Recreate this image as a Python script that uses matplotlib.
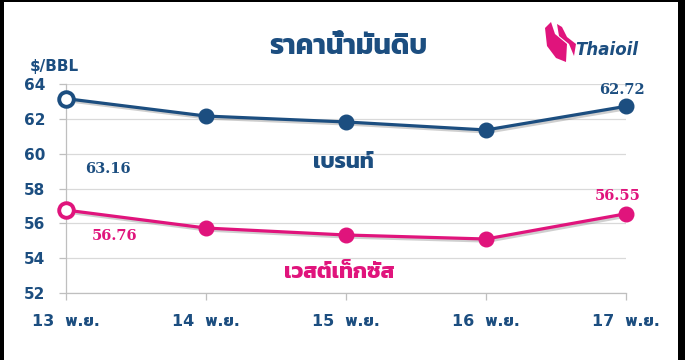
import matplotlib
matplotlib.use('Agg')
import matplotlib.pyplot as plt
import matplotlib.patheffects as pe
from matplotlib.patches import Rectangle, Polygon

# data
days = ['13 พ.ย.', '14 พ.ย.', '15 พ.ย.', '16 พ.ย.', '17 พ.ย.']
brent = [63.16, 62.16, 61.82, 61.36, 62.72]
wti = [56.76, 55.73, 55.33, 55.10, 56.55]
yticks = [52, 54, 56, 58, 60, 62, 64]

title = 'ราคาน้ำมันดิบ'
brent_name = 'เบรนท์'
wti_name = 'เวสต์เท็กซัส'
unit = '$/BBL'

navy = '#1C4E80'
pink = '#E0147C'
thai = ['Kanit', 'Noto Sans Thai', 'DejaVu Sans']
mixed = ['DejaVu Sans', 'Kanit', 'Noto Sans Thai']

W, H = 685, 360
fig = plt.figure(figsize=(W / 100, H / 100), dpi=100)
fig.patch.set_facecolor('black')
fig.add_artist(Rectangle((4 / W, 0), 674 / W, 1 - 2 / H, transform=fig.transFigure,
                         facecolor='white', edgecolor='none', zorder=-5))

ax = fig.add_axes([66 / W, 1 - 293 / H, 560 / W, 209 / H])
ax.set_facecolor('none')
x = list(range(len(days)))

shadow = [pe.SimpleLineShadow(offset=(1.5, -1.5), shadow_color='#777777', alpha=0.35), pe.Normal()]
for vals, col in [(brent, navy), (wti, pink)]:
    ax.plot(x, vals, color=col, lw=2.3, zorder=3, clip_on=False, path_effects=shadow)
    ax.plot(x[1:], vals[1:], 'o', color=col, ms=10.5, zorder=4, clip_on=False)
    # first day drawn hollow
    ax.plot(x[:1], vals[:1], 'o', mfc='white', mec=col, mew=2.8, ms=10.5, zorder=4, clip_on=False)

ax.set_xlim(0, len(days) - 1)
ax.set_ylim(52, 64)
ax.set_yticks(yticks)
ax.set_xticks(x)
ax.set_xticklabels([d.replace(' ', '  ') for d in days], fontfamily=mixed, fontweight='bold',
                   fontsize=11.5, color=navy)
ax.set_yticklabels(yticks, fontfamily=mixed, fontweight='bold', fontsize=11, color=navy)
ax.grid(axis='y', color='#D9D9D9', lw=0.9)
ax.set_axisbelow(True)
for s in ['top', 'right']:
    ax.spines[s].set_visible(False)
for s in ['left', 'bottom']:
    ax.spines[s].set_color('#BFBFBF')
    ax.spines[s].set_linewidth(0.9)
ax.tick_params(axis='both', direction='out', length=5, color='#BFBFBF', width=0.9, pad=10)

# value labels at the first and last day
lab_font = dict(family='DejaVu Serif', fontweight='bold', fontsize=10.5, ha='center', va='center')
ax.annotate(f'{brent[0]:.2f}', (x[0], brent[0]), xytext=(30, -51), textcoords='offset points', color=navy, **lab_font)
ax.annotate(f'{brent[-1]:.2f}', (x[-1], brent[-1]), xytext=(-3, 12), textcoords='offset points', color=navy, **lab_font)
ax.annotate(f'{wti[0]:.2f}', (x[0], wti[0]), xytext=(35, -19), textcoords='offset points', color=pink, **lab_font)
ax.annotate(f'{wti[-1]:.2f}', (x[-1], wti[-1]), xytext=(-6, 13), textcoords='offset points', color=pink, **lab_font)

ax.text(1.98, 59.5, brent_name, family=thai, fontweight='bold', fontsize=16, color=navy, ha='center', va='center')
ax.text(1.95, 53.2, wti_name, family=thai, fontweight='bold', fontsize=16, color=pink, ha='center', va='center')

fig.text(348 / W, 1 - 47 / H, title, family=thai, fontweight='bold', fontsize=20, color=navy, ha='center', va='center')
fig.text(54 / W, 1 - 66 / H, unit, family='DejaVu Sans', fontweight='bold', fontsize=11, color=navy,
         ha='center', va='center')

# Thaioil logo
def px(pts):
    return [(a / W, 1 - b / H) for a, b in pts]

fig.add_artist(Polygon(px([(545, 28), (551, 22), (555, 34), (567, 44), (566, 62), (556, 58), (547, 46)]),
                       closed=True, transform=fig.transFigure, facecolor=pink, edgecolor='none'))
fig.add_artist(Polygon(px([(557, 24), (562, 27), (567, 37), (576, 44), (574, 56), (569, 44), (559, 36)]),
                       closed=True, transform=fig.transFigure, facecolor=pink, edgecolor='none'))
fig.text(575 / W, 1 - 50 / H, 'Thaioil', family='DejaVu Sans', fontweight='bold', style='italic',
         fontsize=12, color=navy, ha='left', va='center')

fig.savefig('out.png', dpi=100, facecolor=fig.get_facecolor())
